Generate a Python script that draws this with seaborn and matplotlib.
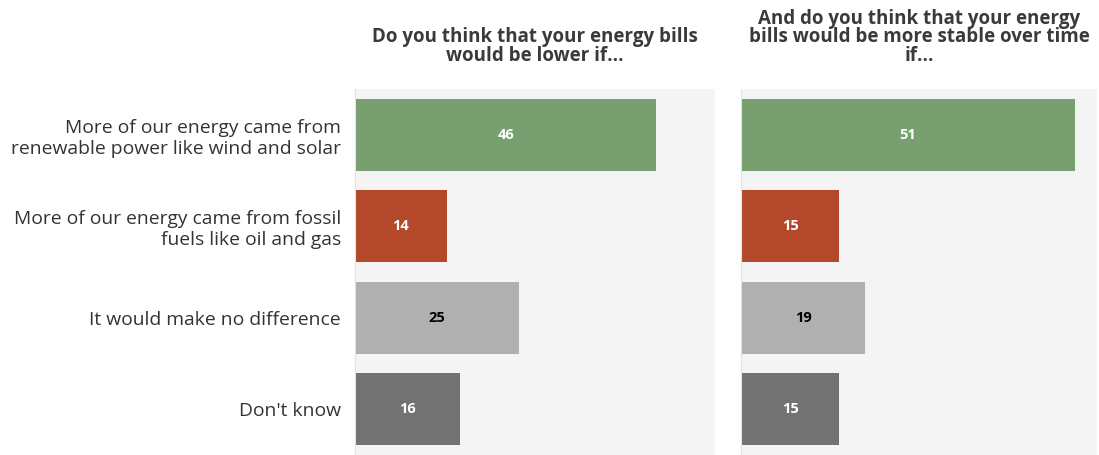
import pandas as pd
import numpy as np
import matplotlib
matplotlib.use("Agg")
import matplotlib.pyplot as plt
import seaborn as sns

sns.set_style("white")
plt.rcParams['font.family'] = ['Open Sans', 'DejaVu Sans']

categories = ["More of our energy came from\nrenewable power like wind and solar",
              "More of our energy came from fossil\nfuels like oil and gas",
              "It would make no difference",
              "Don't know"]
lower_vals = [46, 14, 25, 16]
stable_vals = [51, 15, 19, 15]
titles = ["Do you think that your energy bills\nwould be lower if...",
          "And do you think that your energy\nbills would be more stable over time\nif..."]
colors = ["#789f70", "#b4482b", "#b0b0b0", "#727272"]
label_colors = ["white", "white", "black", "white"]

fig = plt.figure(figsize=(10.99, 4.55), dpi=100)
ax1 = fig.add_axes([0.323, 0.0, 0.328, 0.804])
ax2 = fig.add_axes([0.6743, 0.0, 0.324, 0.804])

for ax, vals, title, xmax in zip([ax1, ax2], [lower_vals, stable_vals], titles, [55, 54.4]):
    df = pd.DataFrame({"answer": categories, "pct": vals})
    sns.barplot(data=df, y="answer", x="pct", hue="answer", palette=colors,
                order=categories, hue_order=categories, dodge=False,
                width=0.79, legend=False, ax=ax, saturation=1, linewidth=0)
    ax.set_facecolor("#f4f4f4")
    ax.set_xlim(0, xmax)
    ax.set_ylim(3.5, -0.5)
    ax.set_xlabel("")
    ax.set_ylabel("")
    ax.set_xticks([])
    for s in ["top", "right", "bottom"]:
        ax.spines[s].set_visible(False)
    ax.spines["left"].set_color("#e2e2e2")
    ax.tick_params(axis="y", length=8, color="#e6e6e6", pad=2,
                   labelsize=13.9, labelcolor="#333333")
    for i, v in enumerate(vals):
        ax.text(v / 2, i, str(v), ha="center", va="center", fontsize=10.5,
                fontweight="bold", color=label_colors[i])
    ax.text(0.5, 1.063, title, transform=ax.transAxes, ha="center", va="bottom",
            fontsize=13.5, fontweight="bold", color="#3a3a3a", linespacing=0.92)

ax2.set_yticklabels([])
ax2.tick_params(axis="y", length=0)

fig.savefig("out.png", dpi=100)
